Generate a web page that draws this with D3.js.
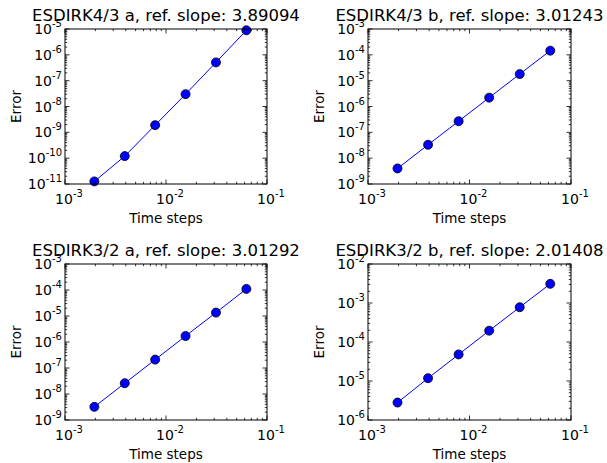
<!DOCTYPE html>
<html>
<head>
<meta charset="utf-8">
<script src="https://cdn.jsdelivr.net/npm/d3@7"></script>
<style>
  html, body { margin: 0; padding: 0; background: #fff; }
  svg { display: block; font-family: "DejaVu Sans", sans-serif; }
</style>
</head>
<body>
<div id="chart"></div>
<script>
// time step sizes shared by all four panels
var steps = [1 / 512, 1 / 256, 1 / 128, 1 / 64, 1 / 32, 1 / 16];

// error values
var errA43 = [1.26e-11, 1.2e-10, 1.9e-9, 3.0e-8, 5.1e-7, 8.9e-6];
var errB43 = [4.0e-9, 3.3e-8, 2.7e-7, 2.2e-6, 1.8e-5, 1.45e-4];
var errA32 = [3.2e-9, 2.6e-8, 2.1e-7, 1.7e-6, 1.35e-5, 1.1e-4];
var errB32 = [2.8e-6, 1.18e-5, 4.8e-5, 1.95e-4, 7.8e-4, 3.1e-3];

var titles = [
  "ESDIRK4/3 a, ref. slope: 3.89094",
  "ESDIRK4/3 b, ref. slope: 3.01243",
  "ESDIRK3/2 a, ref. slope: 3.01292",
  "ESDIRK3/2 b, ref. slope: 2.01408"
];
var xDomain = [1e-3, 1e-1];
var yDomains = [[1e-11, 1e-5], [1e-9, 1e-3], [1e-9, 1e-3], [1e-6, 1e-2]];
var series = [errA43, errB43, errA32, errB32];

var W = 607, H = 463;
var svg = d3.select("#chart").append("svg").attr("width", W).attr("height", H);

// panel frames (left, top, right, bottom)
var frames = [
  [65, 29, 267, 184],
  [368, 29, 571, 184],
  [65, 264, 267, 420],
  [368, 264, 571, 420]
];

function logTicks(dom) {
  var lo = Math.round(Math.log10(dom[0])), hi = Math.round(Math.log10(dom[1]));
  var major = [], minor = [];
  for (var e = lo; e <= hi; e++) {
    major.push(e);
    if (e < hi) for (var m = 2; m <= 9; m++) minor.push(m * Math.pow(10, e));
  }
  return { major: major, minor: minor };
}

function expLabel(sel, e) {
  sel.append("tspan").text("10");
  sel.append("tspan").attr("dy", -7).attr("font-size", 10).text(e < 0 ? "-" + (-e) : e);
}

frames.forEach(function (f, i) {
  var x = d3.scaleLog().domain(xDomain).range([f[0], f[2]]);
  var y = d3.scaleLog().domain(yDomains[i]).range([f[3], f[1]]);
  var g = svg.append("g");
  var xt = logTicks(xDomain), yt = logTicks(yDomains[i]);

  // line + markers
  var pts = steps.map(function (s, k) { return [s, series[i][k]]; });
  g.append("path").attr("d", d3.line().x(function (d) { return x(d[0]); }).y(function (d) { return y(d[1]); })(pts))
    .attr("fill", "none").attr("stroke", "#0000ff").attr("stroke-width", 1);
  pts.forEach(function (d) {
    g.append("circle").attr("cx", x(d[0])).attr("cy", y(d[1])).attr("r", 4.5)
      .attr("fill", "#0000ff").attr("stroke", "#000").attr("stroke-width", 0.8);
  });

  // ticks, inside on all four sides
  var tk = g.append("g").attr("stroke", "#000").attr("stroke-width", 0.8);
  xt.major.forEach(function (e) {
    var px = x(Math.pow(10, e));
    tk.append("line").attr("x1", px).attr("x2", px).attr("y1", f[3]).attr("y2", f[3] - 4.5);
    tk.append("line").attr("x1", px).attr("x2", px).attr("y1", f[1]).attr("y2", f[1] + 4.5);
  });
  xt.minor.forEach(function (v) {
    var px = x(v);
    tk.append("line").attr("x1", px).attr("x2", px).attr("y1", f[3]).attr("y2", f[3] - 2.2);
    tk.append("line").attr("x1", px).attr("x2", px).attr("y1", f[1]).attr("y2", f[1] + 2.2);
  });
  yt.major.forEach(function (e) {
    var py = y(Math.pow(10, e));
    tk.append("line").attr("x1", f[0]).attr("x2", f[0] + 4.5).attr("y1", py).attr("y2", py);
    tk.append("line").attr("x1", f[2]).attr("x2", f[2] - 4.5).attr("y1", py).attr("y2", py);
  });
  yt.minor.forEach(function (v) {
    var py = y(v);
    tk.append("line").attr("x1", f[0]).attr("x2", f[0] + 2.2).attr("y1", py).attr("y2", py);
    tk.append("line").attr("x1", f[2]).attr("x2", f[2] - 2.2).attr("y1", py).attr("y2", py);
  });

  // frame
  g.append("rect").attr("x", f[0]).attr("y", f[1]).attr("width", f[2] - f[0]).attr("height", f[3] - f[1])
    .attr("fill", "none").attr("stroke", "#000").attr("stroke-width", 1);

  // tick labels
  xt.major.forEach(function (e) {
    var t = g.append("text").attr("x", x(Math.pow(10, e)) + 4).attr("y", f[3] + 20)
      .attr("text-anchor", "middle").attr("font-size", 14).attr("fill", "#000");
    expLabel(t, e);
  });
  yt.major.forEach(function (e) {
    var t = g.append("text").attr("x", f[0] - 3).attr("y", y(Math.pow(10, e)) + 5)
      .attr("text-anchor", "end").attr("font-size", 14).attr("fill", "#000");
    expLabel(t, e);
  });

  // axis labels and title
  g.append("text").attr("x", (f[0] + f[2]) / 2).attr("y", f[3] + 39).attr("text-anchor", "middle")
    .attr("font-size", 13.5).text("Time steps");
  g.append("text").attr("transform", "translate(" + (f[0] - 44) + "," + ((f[1] + f[3]) / 2) + ") rotate(-90)")
    .attr("text-anchor", "middle").attr("font-size", 13.5).text("Error");
  g.append("text").attr("x", (f[0] + f[2]) / 2).attr("y", f[1] - 8).attr("text-anchor", "middle")
    .attr("font-size", 16.5).text(titles[i]);
});
</script>
</body>
</html>
